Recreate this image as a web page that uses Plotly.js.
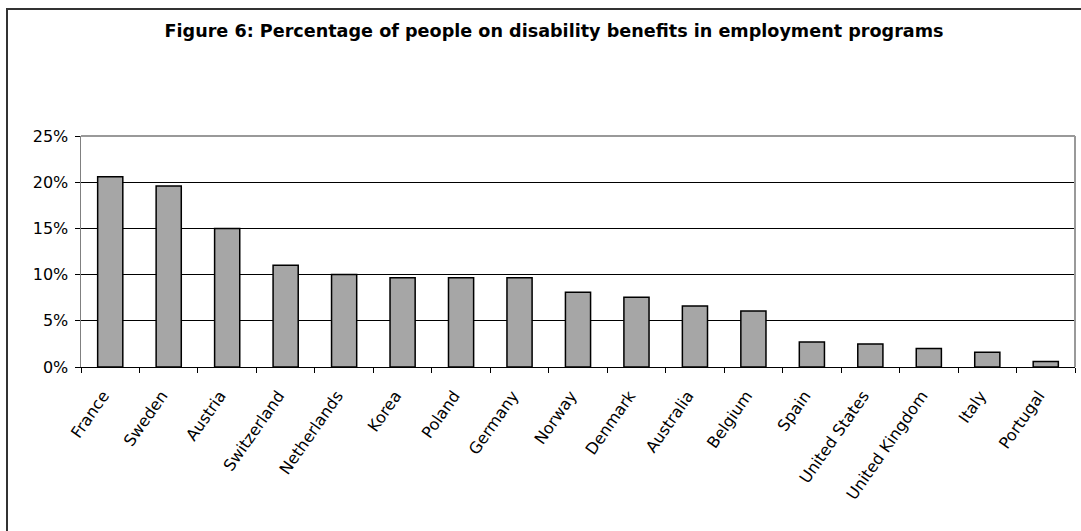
<!DOCTYPE html>
<html>
<head>
<meta charset="utf-8">
<script src="https://cdn.plot.ly/plotly-3.0.1.min.js"></script>
<style>
  html, body { margin: 0; padding: 0; background: #fff; }
  #wrap { position: relative; width: 1081px; height: 531px; overflow: hidden; }
  #chart { position: absolute; left: 0; top: 0; width: 1081px; height: 531px; }
  #frame { position: absolute; left: 6px; top: 8px; width: 1100px; height: 600px;
           border-left: 2px solid #333; border-top: 2px solid #333; pointer-events: none; }
</style>
</head>
<body>
<div id="wrap">
  <div id="chart"></div>
  <div id="frame"></div>
</div>
<script>
const countries = ["France", "Sweden", "Austria", "Switzerland", "Netherlands", "Korea", "Poland",
  "Germany", "Norway", "Denmark", "Australia", "Belgium", "Spain", "United States",
  "United Kingdom", "Italy", "Portugal"];
const percentValues = [20.6, 19.6, 15.0, 11.0, 10.0, 9.65, 9.65, 9.65, 8.1, 7.55, 6.6, 6.05,
  2.7, 2.5, 2.0, 1.6, 0.6];
const yTickValues = [0, 5, 10, 15, 20, 25];
const yTickLabels = ["0%", "5%", "10%", "15%", "20%", "25%"];
const chartTitle = "Figure 6: Percentage of people on disability benefits in employment programs";

const FONT = "DejaVu Sans, Arial, sans-serif";

const trace = {
  type: "bar",
  x: countries,
  y: percentValues,
  marker: { color: "#A6A6A6", line: { color: "#000000", width: 1.5 } },
  hoverinfo: "x+y"
};

const layout = {
  width: 1081,
  height: 531,
  margin: { l: 81, r: 6, t: 136, b: 164, pad: 0 },
  paper_bgcolor: "#ffffff",
  plot_bgcolor: "#ffffff",
  showlegend: false,
  bargap: 0.57,
  title: {
    text: "<b>" + chartTitle + "</b>",
    font: { family: FONT, size: 17.6, color: "#000000" },
    xref: "container", x: 0.5125, xanchor: "center",
    yref: "container", y: 0.941, yanchor: "middle"
  },
  xaxis: {
    type: "category",
    tickangle: -55,
    tickfont: { family: FONT, size: 16, color: "#000000" },
    ticklabelstandoff: 12,
    ticklabelshift: -7,
    showline: true, linecolor: "#000000", linewidth: 1,
    ticks: "outside", ticklen: 5, tickcolor: "#000000", tickwidth: 1,
    tickson: "boundaries",
    showgrid: false,
    mirror: false,
    range: [-0.5, 16.5]
  },
  yaxis: {
    range: [0, 25],
    tickvals: yTickValues,
    ticktext: yTickLabels,
    tickfont: { family: FONT, size: 16, color: "#000000" },
    ticklabelstandoff: 3,
    showline: true, linecolor: "#808080", linewidth: 1.5,
    ticks: "outside", ticklen: 5, tickcolor: "#000000", tickwidth: 1,
    showgrid: true, gridcolor: "#000000", gridwidth: 1,
    zeroline: false,
    fixedrange: true
  },
  shapes: [
    { type: "line", xref: "paper", yref: "paper", x0: 0, x1: 1, y0: 1, y1: 1,
      line: { color: "#999999", width: 2 } },
    { type: "line", xref: "paper", yref: "paper", x0: 1, x1: 1, y0: 0, y1: 1,
      line: { color: "#999999", width: 2 } }
  ]
};

Plotly.newPlot("chart", [trace], layout, { displayModeBar: false, staticPlot: true });
</script>
</body>
</html>
